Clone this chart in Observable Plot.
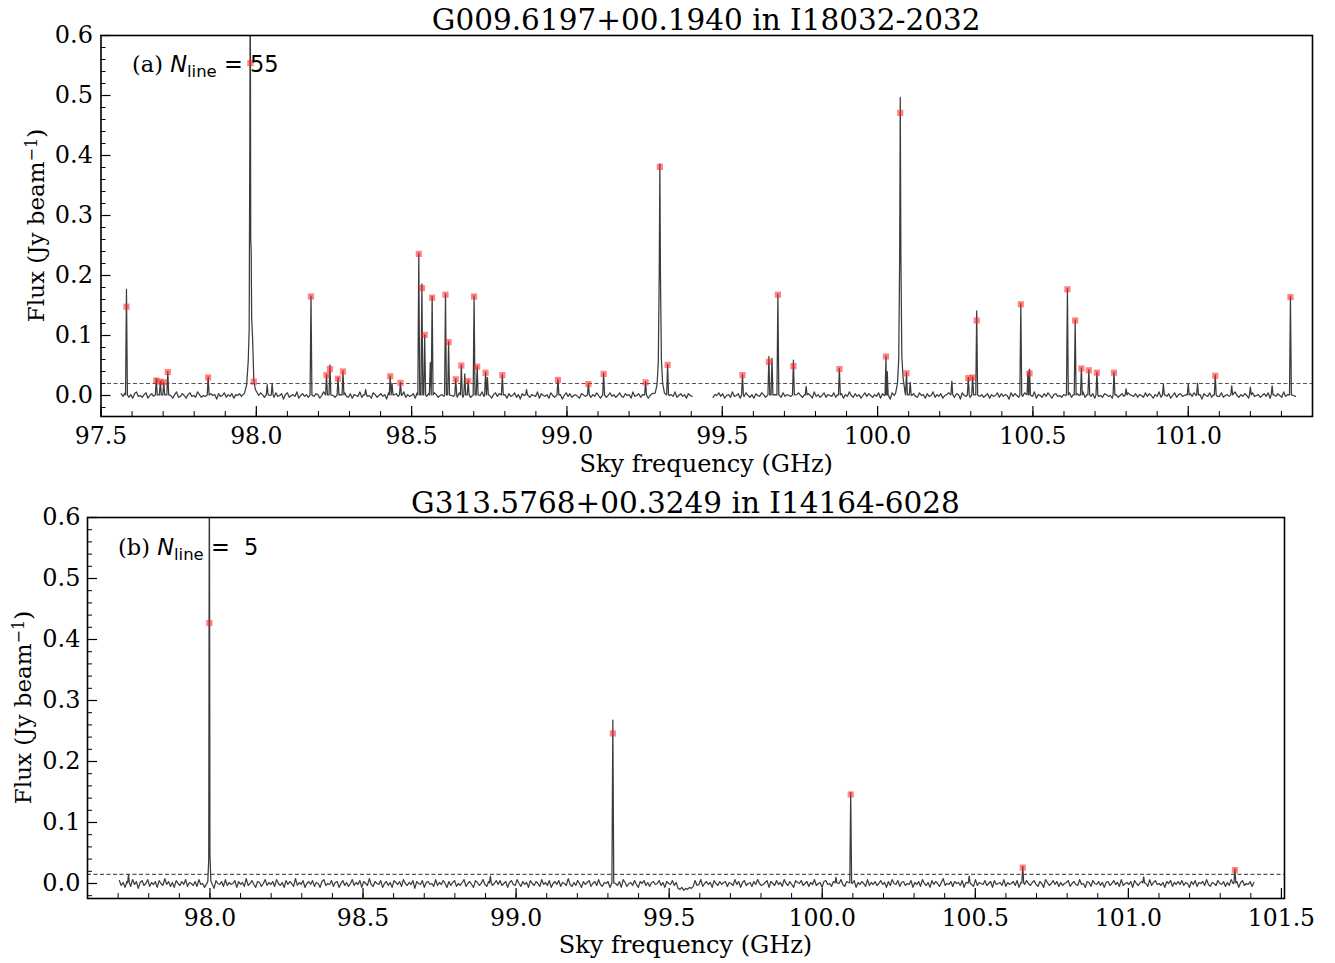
<!DOCTYPE html>
<html><head><meta charset="utf-8">
<script src="https://cdn.jsdelivr.net/npm/d3@7"></script>
<script src="https://cdn.jsdelivr.net/npm/@observablehq/plot@0.6"></script>
<style>
body{margin:0;background:#fff;}
#chart{width:1335px;}
svg{display:block;}
</style></head><body><div id="chart"></div><script>
// ---------------- Panel (a) data ----------------
const aTitle = "G009.6197+00.1940 in I18032-2032";
const aSegments = [[97.565, 99.403], [99.470, 101.345]];
// emission line apexes (GHz, Jy/beam)
const aLineF = [97.582,97.678,97.691,97.702,97.715,97.845,98.035,98.051,98.176,98.226,98.237,98.263,98.279,98.352,98.431,98.437,98.464,98.523,98.533,98.542,98.560,98.566,98.609,98.619,98.642,98.660,98.671,98.682,98.701,98.711,98.738,98.744,98.792,98.870,98.971,99.069,99.118,99.253,99.324,99.565,99.650,99.660,99.679,99.729,99.770,99.877,100.027,100.031,100.093,100.105,100.239,100.292,100.306,100.319,100.461,100.484,100.489,100.611,100.636,100.656,100.680,100.706,100.761,100.800,100.920,101.000,101.030,101.087,101.140,101.200,101.270,101.329];
const aLineT = [0.177,0.028,0.024,0.022,0.040,0.031,0.018,0.020,0.166,0.035,0.051,0.030,0.041,0.010,0.033,0.020,0.022,0.237,0.186,0.101,0.055,0.165,0.169,0.090,0.028,0.051,0.036,0.025,0.166,0.049,0.039,0.030,0.035,0.010,0.027,0.020,0.037,0.023,0.052,0.035,0.065,0.062,0.169,0.059,0.015,0.045,0.066,0.040,0.038,0.022,0.024,0.030,0.031,0.141,0.153,0.039,0.044,0.178,0.126,0.046,0.043,0.039,0.039,0.011,0.019,0.020,0.020,0.034,0.016,0.014,0.016,0.165];
// broad line profiles
const aWingF = [97.962,97.969,97.974,97.977,97.979,97.9805,97.982,97.9835,97.985,97.988,97.992,97.997, 99.284,99.290,99.294,99.297,99.299,99.301,99.304,99.308,99.314, 100.058,100.064,100.068,100.071,100.073,100.075,100.078,100.082,100.088];
const aWingV = [0.004,0.018,0.058,0.110,0.420,0.740,0.260,0.241,0.130,0.095,0.025,0.010, 0.004,0.018,0.055,0.200,0.386,0.200,0.060,0.020,0.004, 0.004,0.020,0.060,0.230,0.497,0.230,0.065,0.030,0.006];
// detected lines (red markers)
const aPeakF = [97.582,97.678,97.691,97.702,97.715,97.845,97.981,97.992,98.176,98.226,98.237,98.263,98.279,98.431,98.464,98.523,98.533,98.542,98.566,98.609,98.619,98.642,98.660,98.682,98.701,98.711,98.738,98.792,98.971,99.069,99.118,99.253,99.299,99.324,99.565,99.650,99.679,99.729,99.877,100.027,100.073,100.093,100.292,100.306,100.319,100.461,100.489,100.611,100.636,100.656,100.680,100.706,100.761,101.087,101.329];
const aPeakV = [0.148,0.025,0.023,0.022,0.039,0.030,0.554,0.023,0.165,0.034,0.044,0.028,0.040,0.032,0.021,0.236,0.179,0.101,0.163,0.168,0.089,0.027,0.050,0.024,0.165,0.048,0.038,0.034,0.026,0.019,0.036,0.022,0.381,0.051,0.034,0.056,0.168,0.049,0.044,0.065,0.471,0.037,0.029,0.030,0.125,0.152,0.037,0.177,0.125,0.045,0.042,0.038,0.038,0.033,0.164];
// baseline noise, in counts of aNoiseUnit (Jy/beam), evenly over each segment
const aNoiseUnit = 0.0015;
const aNoise1 = [2,-1,3,0,-2,1,-3,2,4,-1,0,-2,1,3,-3,0,2,-1,-4,1,
0,3,-2,1,-1,2,0,-3,1,4,-2,-1,2,0,-3,1,3,-1,0,-2,
4,1,-2,0,-1,3,-3,2,0,1,-4,2,-1,0,3,-2,1,-1,2,-3,
1,0,2,-1,-3,4,0,-2,1,2,-1,-3,0,3,1,-2,2,-1,0,1,
-2,3,-1,0,2,-4,1,3,-2,0,1,-1,4,-3,0,2,-1,1,-2,3,
0,-1,2,1,-3,0,4,-2,1,-1,3,0,-2,2,-4,1,0,3,-1,-2,
2,-3,1,0,-1,4,-2,1,2,-1,0,-3,3,1,-2,0,2,-1,1,-4,
3,0,-2,1,2,-1,-3,0,4,-2,1,-1,0,2,-3,3,1,-2,0,1,
-1,2,0,-4,3,1,-2,0,1,-1,2,-3,4,0,-1,1,-2,3,0,-2,
1,-1,3,-2,0,2,-3,1,0,4,-1,-2,2,0,-3,1,3,-1,2,-2,
0,1,-3,2,-1,0,3,-2,1,-4,2,0,-1,3,-2,1,0,-1,4,-3,
2,0,-1,1,-3,3,0,-2,2,-1,1,-4,0,3,-1,2,-2,0,1,-1,
-3,2,1,-1,0,4,-2,1,-1,3,0,-3,2,1,-2,0,3,-1,1,-2,
0,3,-1,-2,2,0,1,-3,4,-1,0,2,-2,1,-1,3,-3,0,2,1,
-1,0,2,-3,1,3,-2,0,1,-1,4,-2,0,2,-1,1,-3,2,0,-1];
const aNoise2 = [-2,1,0,3,-1,2,-3,0,1,-2,4,-1,0,2,-3,1,-1,3,0,-2,
1,-3,2,0,-1,3,1,-2,0,4,-1,-3,1,2,0,-2,3,-1,1,0,
-1,2,-4,1,3,0,-2,1,-1,2,0,-3,4,-1,1,-2,0,3,-2,1,
0,-1,3,-2,1,0,2,-3,1,-1,4,0,-2,2,-1,1,-3,0,3,-1,
2,0,-2,1,-1,3,-3,2,0,-1,1,-4,3,0,2,-2,1,-1,0,4,
-3,1,0,2,-1,-2,3,0,1,-3,2,-1,0,4,-2,1,-1,2,-3,0,
1,3,-1,0,-2,2,1,-4,3,0,-1,2,-2,1,0,-3,4,-1,1,-2,
0,2,-3,1,-1,0,3,-2,2,-1,1,0,-4,3,-1,2,0,-2,1,-1,
3,-2,0,1,-1,4,-3,1,0,-2,2,-1,3,0,-3,1,2,-1,0,-2,
1,0,-1,3,-2,1,-3,2,0,-1,4,-2,1,0,-1,2,-3,3,-1,0,
-2,2,1,-1,0,-3,3,1,-2,0,2,-1,-4,3,1,0,-1,2,-2,1,
0,-2,3,-1,2,0,-3,1,-1,4,-2,0,1,-1,2,-3,0,3,-2,1,
2,-1,0,1,-3,2,-1,3,0,-2,1,-4,2,0,-1,3,-2,1,0,-1,
-1,3,-2,0,1,-1,2,-3,4,0,-2,1,-1,2,0,-3,1,3,-1,0,
1,-2,0,2,-1,3,-3,0,1,-1,2,0,-2,4,-1,1,-3,2,0,-1];
const aThreshold = 0.020;

// ---------------- Panel (b) data ----------------
const bTitle = "G313.5768+00.3249 in I14164-6028";
const bSegments = [[97.704, 101.41]];
const bLineF = [97.734, 98.916, 99.316, 100.045, 100.093, 100.480, 100.655, 101.050, 101.348];
const bLineT = [0.015, 0.012, 0.268, 0.010, 0.149, 0.012, 0.028, 0.011, 0.024];
const bWingF = [97.993, 97.996, 97.998, 98.000, 98.003];
const bWingV = [0.003, 0.040, 0.760, 0.045, 0.004];
const bPeakF = [97.998, 99.316, 100.093, 100.655, 101.348];
const bPeakV = [0.427, 0.246, 0.146, 0.026, 0.022];
const bNoiseUnit = 0.0016;
const bNoise = [3,-2,1,-4,2,0,-3,4,-1,2,-5,1,3,-2,0,4,-3,1,-1,2,
-4,3,0,-2,5,-1,2,-3,1,-4,3,0,-2,2,-1,4,-3,1,0,-2,
2,-3,4,-1,0,-4,3,1,-2,2,-5,3,0,-1,2,-3,4,-2,1,-1,
0,3,-4,2,-1,1,-3,5,-2,0,3,-1,-4,2,1,-3,0,4,-2,1,
-1,2,-3,4,0,-2,1,-4,3,-1,2,0,-3,5,-2,1,-1,3,-4,0,
2,-1,3,-3,1,0,-4,2,4,-2,0,-1,3,-3,1,2,-4,0,3,-2,
1,-3,0,4,-2,1,-1,3,-4,2,0,-2,5,-1,-3,2,0,-1,3,-4,
0,2,-2,1,-4,3,1,-1,2,-3,4,0,-2,1,-1,3,-5,2,0,-1,
3,-4,1,2,-1,0,-3,4,-2,1,-1,3,0,-4,2,-2,1,3,-3,0,
-2,1,4,-3,0,2,-1,-4,3,1,-2,0,4,-1,-3,2,1,-2,0,3,
-1,3,-2,0,2,-4,1,3,-1,-2,4,0,-3,2,-1,1,-4,3,0,-2,
2,0,-3,4,-1,1,-2,3,-4,0,2,-1,3,-3,1,0,-2,5,-1,-3,
1,-2,3,0,-4,2,-1,1,3,-3,0,2,-2,4,-1,-3,1,0,2,-4,
3,-1,0,-2,2,-4,4,1,-3,0,1,-2,3,-1,-4,2,0,3,-2,1,
-3,1,2,-1,0,3,-2,1,-4,2,0,-1,3,-2,1,-5,-6,-4,-7,-5,
-6,-4,-5,-3,3,-2,-1,4,-3,0,2,-1,1,-4,3,0,-2,2,-1,1,
2,-3,1,0,-2,4,-1,2,-4,1,3,-2,0,1,-3,2,-1,4,0,-2,
-1,1,3,-4,2,0,-2,3,-1,1,-3,4,0,-2,2,-1,-4,3,1,0,
3,-2,0,2,-3,1,-1,4,-2,0,1,-4,2,3,-1,0,-3,2,-2,1,
0,4,-1,-3,2,1,-2,0,3,-4,1,-1,2,0,-3,4,-2,1,-1,2,
-2,0,3,-1,1,-4,2,-2,4,0,-1,3,-3,1,2,-2,0,-1,3,-4,
1,-1,2,-3,4,0,-2,1,-4,3,-1,2,0,-3,1,5,-2,0,-1,2,
-3,2,0,1,-2,3,-4,1,0,2,-1,-3,4,-2,1,0,-1,3,-2,0,
2,-4,3,-1,0,1,-2,4,-3,1,-1,0,2,-2,3,-4,1,0,-1,3,
0,-2,1,3,-1,-3,2,0,-4,4,1,-2,0,3,-1,2,-3,1,-2,0,
1,3,-3,0,2,-1,-2,4,-1,0,-4,2,1,-3,3,0,-1,2,-2,1,
-4,1,2,-2,0,3,-1,1,-3,4,-2,0,1,-1,2,-4,3,0,-2,1,
2,-1,0,-3,4,-2,1,3,-1,0,-2,1,-4,2,0,3,-3,1,-1,2,
-1,3,-2,1,0,-4,2,-1,3,-3,1,0,2,-2,4,-1,-3,1,0,-2,
3,0,-1,2,-3,1,-2,4,0,-1,2,-4,1,3,-2,0,-1,2,-3,1];
const bThreshold = 0.015;

// axis ticks
const aXTicks = [97.5, 98.0, 98.5, 99.0, 99.5, 100.0, 100.5, 101.0];
const bXTicks = [98.0, 98.5, 99.0, 99.5, 100.0, 100.5, 101.0, 101.5];
const yTicks = [0.0, 0.1, 0.2, 0.3, 0.4, 0.5, 0.6];

// ---------------- drawing ----------------
const W = 1335;
const SERIF = "'DejaVu Serif', serif";
const SANS = "'DejaVu Sans', sans-serif";

function buildSpectrum(segments, noiseSets, unit, lineF, lineT, wingF, wingV, hw) {
  const segOf = f => Math.max(0, segments.findIndex(([a, b]) => f >= a - 1e-6 && f <= b + 1e-6));
  const keys = lineF.concat(wingF);
  const near = f => keys.some(k => Math.abs(k - f) < hw + 0.0015);
  const pts = [];
  segments.forEach(([a, b], k) => {
    const noise = noiseSets[k];
    noise.forEach((m, i) => {
      const f = a + (b - a) * i / (noise.length - 1);
      if (!near(f)) pts.push({f, v: m * unit, seg: k});
    });
  });
  lineF.forEach((f, i) => {
    const seg = segOf(f);
    pts.push({f: f - hw, v: 0.001, seg}, {f, v: lineT[i], seg}, {f: f + hw, v: 0.001, seg});
  });
  wingF.forEach((f, i) => pts.push({f, v: wingV[i], seg: segOf(f)}));
  return pts.sort((p, q) => p.f - q.f);
}

function panel(c) {
  const spec = buildSpectrum(c.segments, c.noise, c.unit, c.lineF, c.lineT, c.wingF, c.wingV, 0.003);
  const peaks = c.peakF.map((f, i) => ({f, v: c.peakV[i]}));
  const fw = c.right - c.left, fh = c.bottom - c.top;
  const xMinor = d3.range(Math.ceil(c.xDomain[0] * 10), Math.floor(c.xDomain[1] * 10 + 1e-6) + 1).map(d => d / 10);
  const yMinor = d3.range(-1, 31).map(d => d / 50).filter(d => d >= c.yDomain[0]);
  const svg = Plot.plot({
    width: W, height: c.height,
    marginLeft: c.left, marginRight: W - c.right, marginTop: c.top, marginBottom: c.height - c.bottom,
    style: {fontFamily: SERIF, fontSize: "24px", background: "white", color: "black", overflow: "visible"},
    x: {domain: c.xDomain, axis: null},
    y: {domain: c.yDomain, axis: null},
    marks: [
      Plot.ruleY([c.threshold], {stroke: "#555", strokeWidth: 1.2, strokeDasharray: "4,2.5"}),
      Plot.line(spec, {x: "f", y: "v", z: "seg", stroke: "#3c3c3c", strokeWidth: 1.25, clip: true}),
      Plot.dot(peaks, {x: "f", y: "v", symbol: "square", r: 3.5, fill: "#ff2020", fillOpacity: 0.55, stroke: null}),
      Plot.tickX(xMinor, {x: d => d, insetTop: fh - 5, stroke: "black", strokeWidth: 1}),
      Plot.tickX(c.xTicks, {x: d => d, insetTop: fh - 10, stroke: "black", strokeWidth: 1.2}),
      Plot.tickY(yMinor, {y: d => d, insetRight: fw - 5, stroke: "black", strokeWidth: 1}),
      Plot.tickY(yTicks, {y: d => d, insetRight: fw - 10, stroke: "black", strokeWidth: 1.2}),
      Plot.axisX({ticks: c.xTicks, tickSize: 0, tickPadding: 11, tickFormat: d3.format(".1f"), label: null, fontSize: 23.5}),
      Plot.axisY({ticks: yTicks, tickSize: 0, tickPadding: c.yPad, tickFormat: d3.format(".1f"), label: null, fontSize: 24}),
      Plot.frame({stroke: "black", strokeWidth: 1.6})
    ]
  });
  const s = d3.select(svg);
  const cx = (c.left + c.right) / 2;
  s.append("text").attr("x", cx).attr("y", c.titleY).attr("text-anchor", "middle")
    .style("font-family", SERIF).style("font-size", "29.5px").text(c.title);
  s.append("text").attr("x", cx).attr("y", c.height - 10).attr("text-anchor", "middle")
    .style("font-family", SERIF).style("font-size", "24px").text("Sky frequency (GHz)");
  const yl = s.append("text").attr("transform", `translate(${c.ylx},${(c.top + c.bottom) / 2}) rotate(-90)`)
    .attr("text-anchor", "middle").style("font-family", SERIF).style("font-size", "23px");
  yl.append("tspan").text("Flux (Jy beam");
  yl.append("tspan").attr("dy", "-0.45em").style("font-size", "16px").text("\u22121");
  yl.append("tspan").attr("dy", "0.32em").text(")");
  const an = s.append("text").attr("x", c.annX).attr("y", c.annY).attr("text-anchor", "start").style("font-size", "22.5px");
  an.append("tspan").style("font-family", SERIF).text(c.tag + " ");
  an.append("tspan").style("font-family", SANS).style("font-style", "italic").text("N");
  an.append("tspan").style("font-family", SANS).style("font-size", "16.5px").attr("dy", "5").text("line");
  an.append("tspan").style("font-family", SANS).attr("dy", "-5").attr("xml:space", "preserve").style("white-space", "pre").text(c.count);
  return svg;
}

const chart = document.getElementById("chart");
chart.appendChild(panel({
  title: aTitle, tag: "(a)", count: " = 55", height: 482, left: 100.5, right: 1312, top: 35, bottom: 416,
  xDomain: [97.5, 101.4], yDomain: [-0.035, 0.6], xTicks: aXTicks, yPad: 8, ylx: 44, annX: 132, annY: 72, titleY: 30,
  segments: aSegments, noise: [aNoise1, aNoise2], unit: aNoiseUnit, lineF: aLineF, lineT: aLineT, wingF: aWingF, wingV: aWingV,
  peakF: aPeakF, peakV: aPeakV, threshold: aThreshold
}));
chart.appendChild(panel({
  title: bTitle, tag: "(b)", count: " =  5", height: 481, left: 87, right: 1284, top: 35, bottom: 416,
  xDomain: [97.6, 101.51], yDomain: [-0.0246, 0.6], xTicks: bXTicks, yPad: 7, ylx: 31, annX: 118, annY: 73, titleY: 31,
  segments: bSegments, noise: [bNoise], unit: bNoiseUnit, lineF: bLineF, lineT: bLineT, wingF: bWingF, wingV: bWingV,
  peakF: bPeakF, peakV: bPeakV, threshold: bThreshold
}));
</script></body></html>
